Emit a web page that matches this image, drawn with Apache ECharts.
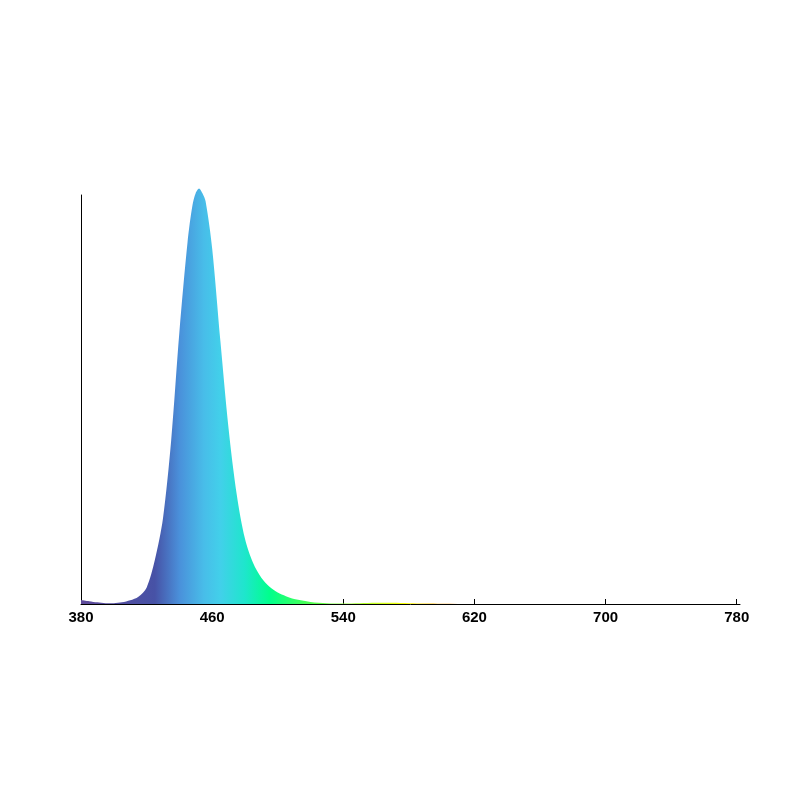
<!DOCTYPE html>
<html>
<head>
    <meta charset="UTF-8">
    <title>Spectrum</title>
    <script src="https://cdn.jsdelivr.net/npm/echarts@6/dist/echarts.min.js"></script>
    <style>
        html, body { margin: 0; padding: 0; background: #fff; }
        #chart { width: 800px; height: 800px; }
    </style>
</head>
<body>
<div id="chart"></div>
<script>
    // wavelengths (nm) and relative intensity
    var wavelengths = [380, 385, 390, 395, 400, 405, 410, 415, 420, 425, 430, 435, 440, 445, 448, 450, 452, 454, 456, 460,
        465, 470, 475, 480, 485, 490, 495, 500, 505, 510, 520, 530, 540, 550, 560, 570, 580, 590, 600, 620, 660, 700, 740, 780];
    var intensity = [0.010, 0.007, 0.004, 0.002, 0.002, 0.004, 0.009, 0.018, 0.040, 0.107, 0.209, 0.400, 0.664, 0.885, 0.975, 1.005, 1.016, 1.005, 0.985, 0.870,
        0.644, 0.430, 0.268, 0.160, 0.100, 0.064, 0.042, 0.028, 0.019, 0.012, 0.005, 0.002, 0.001, 0.002, 0.003, 0.003, 0.002, 0.001, 0.0005, 0, 0, 0, 0, 0];
    var xTicks = [380, 460, 540, 620, 700, 780];

    // colour of the fill along the wavelength range
    var stopNm = [380, 425, 440, 455, 465, 480, 495, 520, 560, 580, 600, 640, 780];
    var stopColor = ['#5e4a9a', '#4752a6', '#4a90da', '#48bde9', '#42d0ea', '#1ee6cc', '#00ff8c',
        '#50ff50', '#c8ff20', '#ffff00', '#ffa500', '#ff3000', '#c00000'];

    var first = wavelengths[0], last = wavelengths[wavelengths.length - 1];
    var stops = stopNm.map(function (nm, i) {
        return {offset: (nm - first) / (last - first), color: stopColor[i]};
    });

    var chart = echarts.init(document.getElementById('chart'));
    chart.setOption({
        animation: false,
        grid: {left: 81, right: 60, top: 195, bottom: 196},
        xAxis: {
            type: 'value',
            min: 380,
            max: 782,
            interval: 80,
            axisLine: {show: true, lineStyle: {color: '#000', width: 1}},
            axisTick: {show: true, inside: true, length: 5, lineStyle: {color: '#000'},
                customValues: xTicks},
            axisLabel: {color: '#000', fontSize: 15, fontWeight: 'bold', fontFamily: 'Liberation Sans, Arial, sans-serif',
                margin: 6, customValues: xTicks},
            splitLine: {show: false}
        },
        yAxis: {
            type: 'value',
            min: 0,
            max: 1,
            axisLine: {show: true, lineStyle: {color: '#000', width: 1}},
            axisTick: {show: false},
            axisLabel: {show: false},
            splitLine: {show: false}
        },
        series: [{
            type: 'line',
            data: wavelengths.map(function (w, i) { return [w, intensity[i]]; }),
            smooth: 0.3,
            symbol: 'none',
            clip: false,
            lineStyle: {width: 0},
            areaStyle: {
                opacity: 1,
                color: new echarts.graphic.LinearGradient(0, 0, 1, 0, stops)
            },
            z: 1
        }]
    });
</script>
</body>
</html>
